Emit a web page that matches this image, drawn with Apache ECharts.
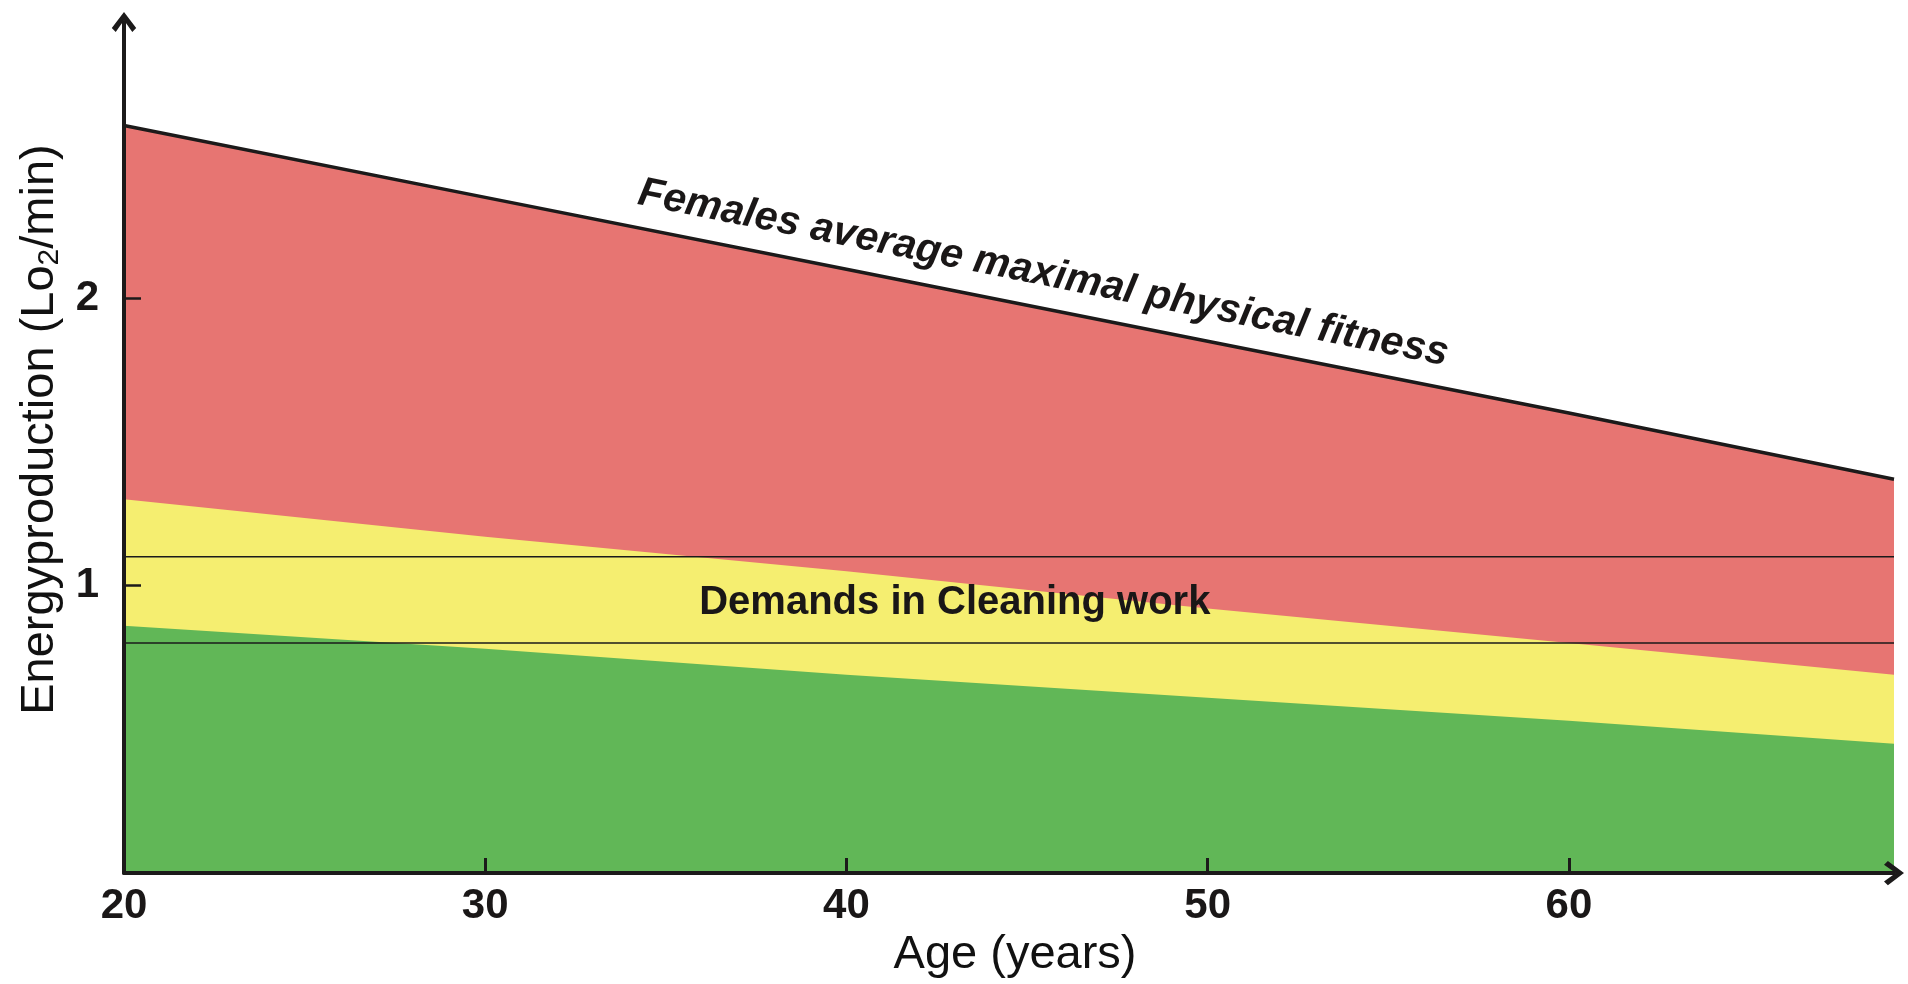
<!DOCTYPE html>
<html>
<head>
<meta charset="utf-8">
<style>
  html, body { margin: 0; padding: 0; background: #fff; }
  #chart { width: 1908px; height: 984px; }
</style>
<script src="https://cdn.jsdelivr.net/npm/echarts@6/dist/echarts.min.js"></script>
</head>
<body>
<div id="chart"></div>
<script>
// values
const ages = [20, 30, 40, 50, 60, 69]
const maxFitness = [2.60, 2.35, 2.10, 1.85, 1.60, 1.37] // red zone top
const upperZone = [1.30, 1.17, 1.05, 0.92, 0.80, 0.69] // yellow zone top
const lowerZone = [0.86, 0.78, 0.69, 0.61, 0.53, 0.45] // green zone top
const demandBand = [0.80, 1.10] // cleaning work demands
const xTickLabels = [20, 30, 40, 50, 60]
const yTickLabels = [1, 2]

const fontFamily = '"Liberation Sans", Arial, sans-serif'
const axisColor = '#1c1a1a'
// open chevron for the axis ends, pointing up
const arrowPath = 'path://M5,0 L10,6.6 L8.4,8.2 L5,3.4 L1.6,8.2 L0,6.6 Z'

const pairs = vals => ages.map((a, i) => [a, vals[i]])
const hLine = v => [[ages[0], v], [ages[ages.length - 1], v]]

const chart = echarts.init(document.getElementById('chart'))

const zone = (name, vals, color, z, line) => ({
  name,
  type: 'line',
  data: pairs(vals),
  symbol: 'none',
  z,
  lineStyle: line ? { color: axisColor, width: 3.5 } : { width: 0 },
  areaStyle: { color, opacity: 1, origin: 'start' },
  silent: true
})

const note = (pos, text, extra) => ({
  type: 'scatter', symbolSize: 0, z: 5, silent: true,
  itemStyle: { opacity: 1 },
  data: [pos],
  label: Object.assign({
    show: true, position: 'inside', formatter: text,
    fontFamily, fontWeight: 'bold', color: '#1a1717'
  }, extra)
})

chart.setOption({
  animation: false,
  grid: { left: 124, right: 14, top: 22, bottom: 106 },
  xAxis: {
    type: 'value',
    min: 20,
    max: 69,
    z: 10,
    name: 'Age (years)',
    nameLocation: 'middle',
    nameGap: 52,
    nameTextStyle: { fontFamily, fontSize: 47, color: '#111', padding: [0, 0, 0, 12] },
    axisLine: {
      lineStyle: { color: axisColor, width: 4 },
      symbol: ['none', arrowPath],
      symbolSize: [26, 20]
    },
    axisTick: { inside: true, length: 15, lineStyle: { color: axisColor, width: 3 }, customValues: [30, 40, 50, 60] },
    axisLabel: { fontFamily, fontSize: 42, fontWeight: 'bold', color: '#1a1717', margin: 12, customValues: xTickLabels },
    splitLine: { show: false }
  },
  yAxis: {
    type: 'value',
    min: 0,
    max: 2.96,
    z: 10,
    name: 'Energyproduction (Lo{sub|2}/min)',
    nameLocation: 'middle',
    nameGap: 57,
    nameTextStyle: {
      fontFamily, fontSize: 47, color: '#111', padding: [0, 0, 0, 36],
      rich: {
        sub: { fontFamily, fontSize: 30, color: '#111', verticalAlign: 'bottom', padding: [20, 0, 0, 0] }
      }
    },
    axisLine: {
      lineStyle: { color: axisColor, width: 4 },
      symbol: ['none', arrowPath],
      symbolSize: [26, 20]
    },
    axisTick: { inside: true, length: 17, lineStyle: { color: axisColor, width: 2.5 }, customValues: yTickLabels },
    axisLabel: { fontFamily, fontSize: 42, fontWeight: 'bold', color: '#1a1717', margin: 25, customValues: yTickLabels },
    splitLine: { show: false }
  },
  series: [
    zone('Maximal fitness', maxFitness, '#E77572', 1, true),
    zone('Upper', upperZone, '#F5EE70', 2, false),
    zone('Lower', lowerZone, '#61B757', 3, false),
    {
      type: 'line', data: hLine(demandBand[1]), symbol: 'none', z: 4, silent: true,
      lineStyle: { color: '#1a1a1a', width: 1.6 }
    },
    {
      type: 'line', data: hLine(demandBand[0]), symbol: 'none', z: 4, silent: true,
      lineStyle: { color: '#1a1a1a', width: 1.6 }
    },
    note([45.45, 2.085], 'Females average maximal physical fitness', { rotate: -11.3, fontSize: 41, fontStyle: 'italic' }),
    note([43, 0.94], 'Demands in Cleaning work', { fontSize: 40 })
  ]
})
</script>
</body>
</html>
